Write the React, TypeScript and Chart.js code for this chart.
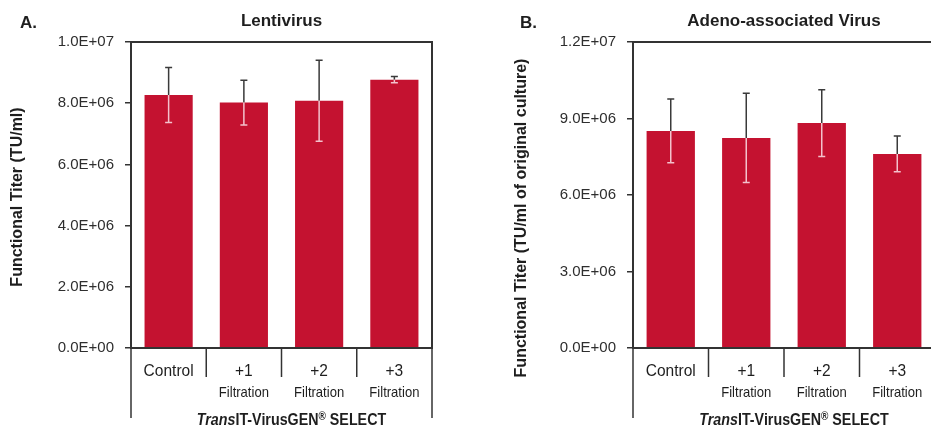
import React, { useEffect, useRef } from "react";
import { Chart, registerables } from "chart.js";

Chart.register(...registerables);

// ---------- data ----------
const CATEGORY_LINE1 = ["Control", "+1", "+2", "+3"];
const CATEGORY_LINE2 = ["", "Filtration", "Filtration", "Filtration"];

const LENTI_TITLE = "Lentivirus";
const LENTI_VALUES = [8.27e6, 8.02e6, 8.08e6, 8.77e6];
const LENTI_ERRORS = [0.9e6, 0.73e6, 1.32e6, 0.1e6];
const LENTI_Y_MAX = 1.0e7;
const LENTI_Y_STEP = 2.0e6;
const LENTI_Y_TITLE = "Functional Titer (TU/ml)";

const AAV_TITLE = "Adeno-associated Virus";
const AAV_VALUES = [8.51e6, 8.24e6, 8.82e6, 7.61e6];
const AAV_ERRORS = [1.25e6, 1.75e6, 1.31e6, 0.7e6];
const AAV_Y_MAX = 1.2e7;
const AAV_Y_STEP = 3.0e6;
const AAV_Y_TITLE = "Functional Titer (TU/ml of original culture)";

const X_TITLE_ITALIC = "Trans";
const X_TITLE_MAIN = "IT-VirusGEN";
const X_TITLE_SUP = "®";
const X_TITLE_END = " SELECT";

// ---------- styles ----------
const FONT = '"Liberation Sans", Arial, sans-serif';
const BAR_COLOR = "#C41230";
const LINE_COLOR = "#333333";
const TEXT_COLOR = "#1e1e1e";

function sci(v: number): string {
  if (v === 0) return "0.0E+00";
  const exp = Math.floor(Math.log10(Math.abs(v)) + 1e-9);
  const mant = v / Math.pow(10, exp);
  const e = Math.abs(exp).toString().padStart(2, "0");
  return mant.toFixed(1) + "E" + (exp < 0 ? "-" : "+") + e;
}

// draw text horizontally condensed by factor sx
function condensedText(ctx: any, text: string, x: number, y: number, sx: number) {
  ctx.save();
  ctx.translate(x, y);
  ctx.scale(sx, 1);
  ctx.fillText(text, 0, 0);
  ctx.restore();
}

const decorPlugin = {
  id: "decor",
  afterDatasetsDraw(chart: any, _args: any, opts: any) {
    const ctx = chart.ctx;
    const yScale = chart.scales.y;
    const meta = chart.getDatasetMeta(0);
    const vals = chart.data.datasets[0].data as number[];
    ctx.save();
    ctx.lineWidth = 1.5;
    meta.data.forEach((bar: any, i: number) => {
      const v = vals[i];
      const e = opts.errors[i];
      const top = yScale.getPixelForValue(v + e);
      const bot = yScale.getPixelForValue(v - e);
      const by = bar.y;
      const x = bar.x;
      ctx.strokeStyle = "#3a3a3a";
      ctx.beginPath();
      ctx.moveTo(x, top);
      ctx.lineTo(x, by);
      ctx.moveTo(x - 3.5, top);
      ctx.lineTo(x + 3.5, top);
      ctx.stroke();
      ctx.strokeStyle = "#f3c2cc";
      ctx.beginPath();
      ctx.moveTo(x, by);
      ctx.lineTo(x, bot);
      ctx.moveTo(x - 3.5, bot);
      ctx.lineTo(x + 3.5, bot);
      ctx.stroke();
    });
    ctx.restore();
  },
  afterDraw(chart: any, _args: any, opts: any) {
    const ctx = chart.ctx;
    const area = chart.chartArea;
    const xScale = chart.scales.x;
    const n = CATEGORY_LINE1.length;
    ctx.save();
    // frame
    ctx.strokeStyle = LINE_COLOR;
    ctx.lineWidth = 2;
    ctx.strokeRect(area.left, area.top, area.right - area.left, area.bottom - area.top);
    // category dividers
    ctx.lineWidth = 1.5;
    for (let i = 0; i <= n; i++) {
      const x = xScale.getPixelForValue(i - 0.5);
      const outer = i === 0 || i === n;
      ctx.beginPath();
      ctx.moveTo(x, area.bottom);
      ctx.lineTo(x, area.bottom + (outer ? 70 : 29));
      ctx.stroke();
    }
    // category labels
    ctx.fillStyle = TEXT_COLOR;
    ctx.textAlign = "center";
    ctx.textBaseline = "alphabetic";
    for (let i = 0; i < n; i++) {
      const x = xScale.getPixelForValue(i);
      ctx.font = `16px ${FONT}`;
      condensedText(ctx, CATEGORY_LINE1[i], x, area.bottom + 28, 0.97);
      if (CATEGORY_LINE2[i]) {
        ctx.font = `14.5px ${FONT}`;
        condensedText(ctx, CATEGORY_LINE2[i], x, area.bottom + 49, 0.9);
      }
    }
    // x axis title (mixed styles, condensed)
    const fs = 17;
    const sxT = 0.84;
    const pieces = [
      { t: X_TITLE_ITALIC, f: `italic bold ${fs}px ${FONT}`, dy: 0 },
      { t: X_TITLE_MAIN, f: `bold ${fs}px ${FONT}`, dy: 0 },
      { t: X_TITLE_SUP, f: `bold ${fs * 0.7}px ${FONT}`, dy: -5 },
      { t: X_TITLE_END, f: `bold ${fs}px ${FONT}`, dy: 0 },
    ];
    let total = 0;
    const widths = pieces.map((p) => {
      ctx.font = p.f;
      const w = ctx.measureText(p.t).width * sxT;
      total += w;
      return w;
    });
    let sx = (area.left + area.right) / 2 + opts.xTitleShift - total / 2;
    ctx.textAlign = "left";
    pieces.forEach((p, i) => {
      ctx.font = p.f;
      condensedText(ctx, p.t, sx, chart.height - 1.5 + p.dy, sxT);
      sx += widths[i];
    });
    // y axis title
    ctx.save();
    ctx.translate(opts.yTitleX, (area.top + area.bottom) / 2 + opts.yTitleShift);
    ctx.rotate(-Math.PI / 2);
    ctx.textAlign = "center";
    ctx.textBaseline = "middle";
    ctx.font = `bold 16px ${FONT}`;
    ctx.fillText(opts.yTitle, 0, 0);
    ctx.restore();
    // panel letter
    ctx.font = `bold 17px ${FONT}`;
    ctx.textAlign = "left";
    ctx.textBaseline = "alphabetic";
    ctx.fillText(opts.letter, opts.letterX, 28);
    ctx.restore();
  },
};

type PanelProps = {
  title: string;
  values: number[];
  errors: number[];
  yMax: number;
  yStep: number;
  yTitle: string;
  letter: string;
  left: number;
  width: number;
  yAxisWidth: number;
  padRight: number;
  yTitleX: number;
  yTitleShift: number;
  letterX: number;
  xTitleShift: number;
};

function Panel(p: PanelProps) {
  const ref = useRef<HTMLCanvasElement | null>(null);
  useEffect(() => {
    if (!ref.current) return;
    const chart = new Chart(ref.current, {
      type: "bar",
      data: {
        labels: CATEGORY_LINE1.map((l, i) => (CATEGORY_LINE2[i] ? [l, CATEGORY_LINE2[i]] : l)),
        datasets: [
          {
            data: p.values,
            backgroundColor: BAR_COLOR,
            borderWidth: 0,
            barPercentage: 0.64,
            categoryPercentage: 1,
          },
        ],
      },
      options: {
        responsive: false,
        animation: false,
        devicePixelRatio: 1,
        layout: { padding: { left: 0, right: p.padRight, top: 0, bottom: 0 } },
        scales: {
          x: {
            offset: true,
            grid: { display: false },
            border: { display: false },
            ticks: { display: false },
            afterFit: (s: any) => {
              s.height = 78;
            },
          },
          y: {
            min: 0,
            max: p.yMax,
            grid: {
              drawOnChartArea: false,
              drawTicks: true,
              tickLength: 6,
              color: LINE_COLOR,
              lineWidth: 1.5,
            },
            border: { display: false },
            ticks: {
              stepSize: p.yStep,
              padding: 11,
              color: "#2e2e2e",
              font: { family: FONT, size: 15 },
              callback: (v: any) => sci(Number(v)),
            },
            afterFit: (s: any) => {
              s.width = p.yAxisWidth;
            },
          },
        },
        plugins: {
          legend: { display: false },
          tooltip: { enabled: false },
          title: {
            display: true,
            text: p.title,
            fullSize: false,
            color: TEXT_COLOR,
            font: { family: FONT, size: 17, weight: "bold", lineHeight: 1.2 },
            padding: { top: 11, bottom: 10.6 },
          },
          decor: {
            errors: p.errors,
            yTitle: p.yTitle,
            yTitleX: p.yTitleX,
            yTitleShift: p.yTitleShift,
            letter: p.letter,
            letterX: p.letterX,
            xTitleShift: p.xTitleShift,
          },
        } as any,
      },
      plugins: [decorPlugin as any],
    });
    return () => chart.destroy();
  }, []);
  return (
    <canvas
      ref={ref}
      width={p.width}
      height={426}
      style={{ position: "absolute", left: p.left, top: 0, width: p.width, height: 426 }}
    />
  );
}

export default function App() {
  return (
    <div
      style={{
        position: "absolute",
        left: 0,
        top: 0,
        width: 931,
        height: 426,
        overflow: "hidden",
        background: "#ffffff",
      }}
    >
      <Panel
        title={LENTI_TITLE}
        values={LENTI_VALUES}
        errors={LENTI_ERRORS}
        yMax={LENTI_Y_MAX}
        yStep={LENTI_Y_STEP}
        yTitle={LENTI_Y_TITLE}
        letter="A."
        left={0}
        width={470}
        yAxisWidth={131}
        padRight={38}
        yTitleX={17.5}
        yTitleShift={2}
        letterX={20}
        xTitleShift={10}
      />
      <Panel
        title={AAV_TITLE}
        values={AAV_VALUES}
        errors={AAV_ERRORS}
        yMax={AAV_Y_MAX}
        yStep={AAV_Y_STEP}
        yTitle={AAV_Y_TITLE}
        letter="B."
        left={470}
        width={470}
        yAxisWidth={163}
        padRight={5}
        yTitleX={52}
        yTitleShift={23}
        letterX={50}
        xTitleShift={10}
      />
    </div>
  );
}
